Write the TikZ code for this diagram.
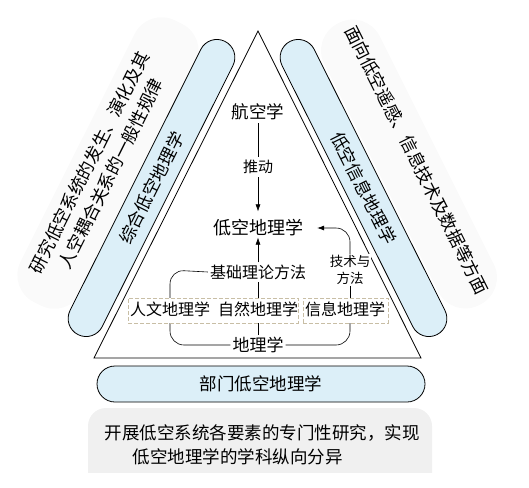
\documentclass[tikz,border=0pt]{standalone}
\usepackage{fontspec}
\newfontfamily\cjk{Noto Sans CJK SC}
\usetikzlibrary{arrows.meta}
\definecolor{capblue}{RGB}{220,239,248}
\definecolor{dashtan}{RGB}{200,190,165}
\begin{document}
\begin{tikzpicture}[x=1pt,y=-1pt, font=\cjk\fontsize{17.5}{24}\selectfont,
  capsule/.style={draw=black, line width=0.8pt, fill=capblue, rounded corners=18pt,
    minimum width=328pt, minimum height=36pt, inner sep=0pt},
  band/.style={fill=gray!4, rounded corners=30pt, inner sep=0pt},
  lbl/.style={inner sep=3pt, fill=white},
  conn/.style={line width=0.6pt},
  arr/.style={conn, -{Latex[length=7pt,width=5pt]}},
  dbox/.style={draw=dashtan, dash pattern=on 4pt off 2pt, line width=0.7pt, fill=white,
    minimum height=25pt, inner sep=0pt}
]
\useasboundingbox (0,0) rectangle (529,487);
% faint background bands
\node[band, rotate=63.4, minimum width=315pt, minimum height=68pt] (lband) at (108,163) {};
\node[band, rotate=-63.4, minimum width=315pt, minimum height=62pt] (rband) at (409,164) {};
\begin{scope}
  \clip (0,0) rectangle (529,472);
  \fill[gray!12, rounded corners=18pt] (88,408) rectangle (432,500);
\end{scope}
% side texts
\node[rotate=63.4, align=center] (ltext) at (100,168) {研究低空系统的发生、演化及其\\人空耦合关系的一般性规律};
\node[rotate=-63.4] (rtext) at (417,160) {面向低空遥感、信息技术及数据等方面};
% capsules
\node[capsule, rotate=63.4] (lcap) at (151.5,188) {综合低空地理学};
\node[capsule, rotate=-63.4] (rcap) at (363.5,188) {低空信息地理学};
\node[capsule] (bcap) at (261,384) {部门低空地理学};
% triangle
\draw[line width=0.8pt, fill=white] (258,31) -- (421,358) -- (94,358) -- cycle;
% bottom text
\node[align=left] (btext) at (262,445) {开展低空系统各要素的专门性研究，实现\\\hspace*{28pt}低空地理学的学科纵向分异};
% inner nodes
\node[lbl] (hk) at (258,112) {航空学};
\node[lbl, font=\cjk\fontsize{15}{15}\selectfont] (td) at (258,167) {推动};
\node[lbl, font=\cjk\fontsize{18}{18}\selectfont, inner sep=1pt] (dk) at (258,228) {低空地理学};
\node[lbl, font=\cjk\fontsize{16}{16}\selectfont, inner sep=2pt] (jc) at (258,272) {基础理论方法};
\node[lbl, font=\cjk\fontsize{17}{17}\selectfont, inner sep=2pt] (dl) at (258,345) {地理学};
\node[lbl, font=\cjk\fontsize{13.5}{17}\selectfont, align=center, inner sep=1pt] (js) at (350,270) {技术与\\方法};
% curves behind boxes
\draw[conn, rounded corners=14pt] (jc.west) -- (170,270) -- (170,345) -- (dl.west);
\draw[conn, rounded corners=14pt] (350,320) -- (350,345) -- (dl.east);
% dashed boxes
\node[dbox, minimum width=170pt] (box1) at (213,310.5) {};
\node[dbox, minimum width=85pt] (box2) at (345.5,310.5) {};
\node[font=\cjk\fontsize{16}{16}\selectfont, inner sep=0pt] (rw) at (170,309) {人文地理学};
\node[font=\cjk\fontsize{16}{16}\selectfont, inner sep=0pt] (zr) at (258,309) {自然地理学};
\node[font=\cjk\fontsize{16}{16}\selectfont, inner sep=0pt] (xx) at (345,309) {信息地理学};
% connectors
\draw[conn] (hk) -- (td);
\draw[arr, shorten >=7pt] (td) -- (dk);
\draw[arr] (jc) -- (dk);
\draw[conn] (box1.north -| jc) -- (jc.south);
\draw[conn] (dl.north) -- (dl.north |- box1.south);
\draw[conn] (js.south) -- (js.south |- box2.north);
\draw[arr, rounded corners=14pt, shorten >=13pt] (js.north) |- (dk.east);
\end{tikzpicture}
\end{document}
